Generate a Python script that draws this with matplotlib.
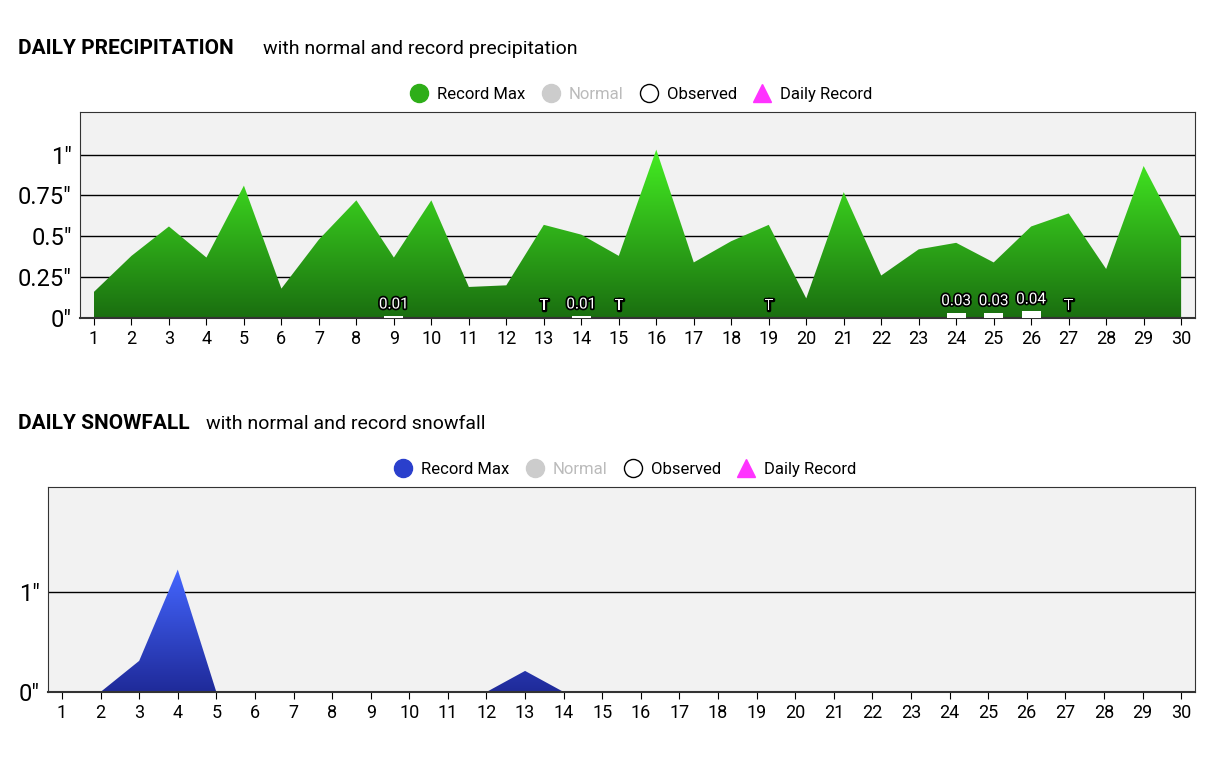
import numpy as np
import matplotlib
matplotlib.use("Agg")
import matplotlib.pyplot as plt
import matplotlib.patheffects as pe
from matplotlib.colors import LinearSegmentedColormap
from matplotlib.lines import Line2D

plt.rcParams['font.family'] = ['Roboto', 'DejaVu Sans']

days = np.arange(1, 31)
precip_record = [0.16, 0.38, 0.56, 0.37, 0.81, 0.18, 0.48, 0.72, 0.37, 0.72,
                 0.19, 0.20, 0.57, 0.51, 0.38, 1.03, 0.34, 0.47, 0.57, 0.12,
                 0.77, 0.26, 0.42, 0.46, 0.34, 0.56, 0.64, 0.30, 0.93, 0.49]
precip_obs_days = [9, 14, 24, 25, 26]
precip_obs_vals = [0.01, 0.01, 0.03, 0.03, 0.04]
precip_trace_days = [13, 15, 19, 27]

snow_record = [0, 0, 0.31, 1.22, 0, 0, 0, 0, 0, 0,
               0, 0, 0.21, 0, 0, 0, 0, 0, 0, 0,
               0, 0, 0, 0, 0, 0, 0, 0, 0, 0]

fig = plt.figure(figsize=(12.21, 7.59), dpi=100)
stroke = [pe.withStroke(linewidth=2.5, foreground='black')]


def gradient_area(ax, x, y, top_col, bot_col, ymax):
    cmap = LinearSegmentedColormap.from_list('g', [bot_col, top_col])
    poly = ax.fill_between(x, 0, y, color='none', lw=0, zorder=2)
    grad = np.linspace(0, 1, 256).reshape(-1, 1)
    im = ax.imshow(grad, cmap=cmap, origin='lower', aspect='auto',
                   extent=[x[0], x[-1], 0, max(y)], zorder=2)
    path = poly.get_paths()[0]
    im.set_clip_path(path, transform=ax.transData)


def setup(ax, xlim, ylim, yticks, ylabels):
    ax.set_facecolor('#f2f2f2')
    ax.set_xlim(*xlim)
    ax.set_ylim(*ylim)
    ax.set_xticks(days)
    ax.tick_params(axis='x', labelsize=13, length=5, color='black')
    ax.set_yticks(yticks)
    ax.set_yticklabels(ylabels, fontsize=17)
    ax.tick_params(axis='y', length=0, pad=6)
    for yv in yticks[1:]:
        ax.axhline(yv, color='black', lw=1, zorder=1)
    for s in ax.spines.values():
        s.set_color('#333333')
    ax.spines['bottom'].set_linewidth(1.5)


def legend(ax, col):
    handles = [
        Line2D([], [], marker='o', ls='none', ms=13, color=col),
        Line2D([], [], marker='o', ls='none', ms=13, color='#cccccc'),
        Line2D([], [], marker='o', ls='none', ms=13, mfc='white', mec='black'),
        Line2D([], [], marker='^', ls='none', ms=13, color='#ff33ff'),
    ]
    leg = ax.legend(handles, ['Record Max', 'Normal', 'Observed', 'Daily Record'],
                    loc='lower center', bbox_to_anchor=(0.5, 1.0), ncol=4,
                    frameon=False, fontsize=12, handletextpad=0.1,
                    columnspacing=0.5, borderaxespad=0.2)
    leg.get_texts()[1].set_color('#bbbbbb')


# precipitation
ax1 = fig.add_axes([0.0655, 0.581, 0.9132, 0.2714])
setup(ax1, (0.627, 30.37), (0, 1.26), [0, 0.25, 0.5, 0.75, 1],
      ['0"', '0.25"', '0.5"', '0.75"', '1"'])
gradient_area(ax1, days, precip_record, '#44ee22', '#1a6e10', 1.26)
ax1.bar(precip_obs_days, precip_obs_vals, width=0.5, color='white', zorder=3)
for d, v in zip(precip_obs_days, precip_obs_vals):
    ax1.text(d, v + 0.03, f'{v:.2f}', ha='center', va='bottom', fontsize=11,
             color='white', path_effects=stroke, zorder=4)
for d in precip_trace_days:
    ax1.text(d, 0.03, 'T', ha='center', va='bottom', fontsize=11,
             color='white', path_effects=stroke, zorder=4)
legend(ax1, '#2eae18')
fig.text(0.015, 0.936, 'DAILY PRECIPITATION', fontsize=15, fontweight='bold', va='center')
fig.text(0.215, 0.936, 'with normal and record precipitation', fontsize=14, va='center')

# snowfall
ax2 = fig.add_axes([0.0393, 0.0883, 0.9394, 0.2697])
setup(ax2, (0.637, 30.36), (0, 2.04), [0, 1], ['0"', '1"'])
gradient_area(ax2, days, snow_record, '#4466ff', '#1f2a99', 2.04)
legend(ax2, '#2a3fcc')
fig.text(0.015, 0.442, 'DAILY SNOWFALL', fontsize=15, fontweight='bold', va='center')
fig.text(0.169, 0.442, 'with normal and record snowfall', fontsize=14, va='center')

fig.savefig('out.png', dpi=100)
